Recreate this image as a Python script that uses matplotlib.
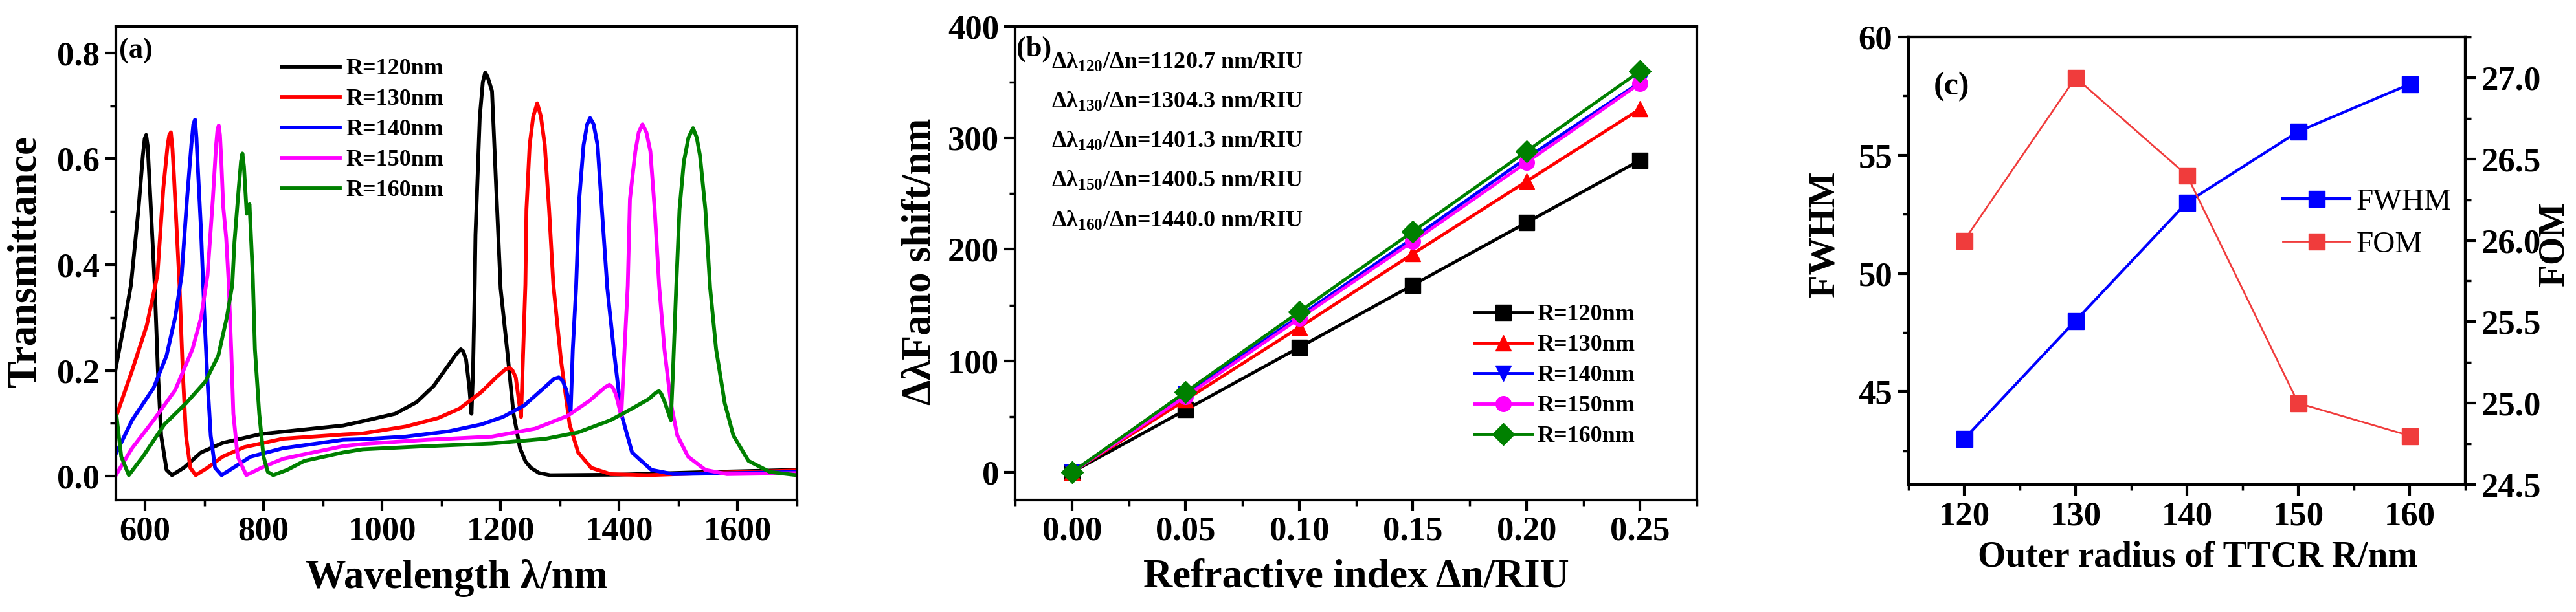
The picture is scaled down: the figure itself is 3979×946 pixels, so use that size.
import matplotlib
matplotlib.use('Agg')
import matplotlib.pyplot as plt
from matplotlib.ticker import MultipleLocator, FormatStrFormatter

plt.rcParams['font.family'] = ['Liberation Serif', 'DejaVu Serif']
plt.rcParams['font.weight'] = 'bold'
plt.rcParams['mathtext.fontset'] = 'custom'
plt.rcParams['mathtext.rm'] = 'Liberation Serif:bold'
plt.rcParams['mathtext.it'] = 'Liberation Serif:bold'
plt.rcParams['mathtext.default'] = 'regular'
plt.rcParams['axes.linewidth'] = 3

# ---- (a) transmission spectra ----
wl_120 = [550, 563.7, 576.4, 589, 596.4, 599.5, 602, 604.5, 607.3, 612.8, 616.4, 621.8, 627.3, 636.4,
          645.5, 665.5, 694.6, 730.9, 796.4, 934.6, 967.3, 1021.8, 1058.2, 1087.3, 1112.7, 1126,
          1132.8, 1137, 1141.8, 1147, 1150.9, 1153.5, 1156.4, 1157.6, 1164.8, 1170, 1174, 1178,
          1185.5, 1192, 1200, 1210.9, 1221.8, 1232.7, 1242, 1250.9, 1265, 1283.6, 1400, 1550, 1700]
t_120 = [0.20, 0.281, 0.362, 0.504, 0.606, 0.638, 0.645, 0.625, 0.565, 0.443, 0.362, 0.199, 0.077, 0.012,
         0.002, 0.016, 0.045, 0.063, 0.080, 0.096, 0.104, 0.118, 0.140, 0.171, 0.211, 0.232,
         0.240, 0.236, 0.220, 0.17, 0.118, 0.199, 0.362, 0.456, 0.678, 0.745, 0.763, 0.755,
         0.728, 0.56, 0.355, 0.240, 0.118, 0.053, 0.028, 0.016, 0.006, 0.002, 0.003, 0.008, 0.012]

wl_130 = [552, 578, 603, 621, 631, 638.2, 641, 643.7, 646.3, 649, 654.5, 658.2, 663.7, 669.2, 676.4,
          685.5, 705.5, 730.9, 767.3, 832.8, 934.6, 967.3, 1040, 1094.6, 1130.9, 1167.3, 1192.7,
          1208, 1214.6, 1220, 1225.5, 1230, 1234.5, 1238.2, 1241.8, 1243.6, 1249, 1255, 1261.8,
          1268, 1274.5, 1281.8, 1289, 1301.8, 1316.4, 1330.9, 1352.7, 1385.5, 1447.3, 1550, 1700]
t_130 = [0.115, 0.199, 0.285, 0.38, 0.545, 0.626, 0.645, 0.650, 0.62, 0.565, 0.443, 0.362, 0.199, 0.077,
         0.016, 0.002, 0.016, 0.037, 0.055, 0.071, 0.079, 0.081, 0.094, 0.110, 0.128, 0.159, 0.187,
         0.202, 0.205, 0.200, 0.187, 0.15, 0.112, 0.240, 0.362, 0.504, 0.626, 0.68, 0.705,
         0.68, 0.626, 0.504, 0.362, 0.220, 0.098, 0.045, 0.016, 0.004, 0.002, 0.006, 0.011]

wl_140 = [552, 578.2, 614.6, 636.4, 651, 661.9, 670.9, 678.2, 681.5, 684.4, 686.8, 689.1, 694.6, 700,
          705.5, 710.9, 718.2, 729.2, 749.1, 778.2, 832.8, 934.6, 967.3, 1040, 1112.7, 1167.3,
          1203.7, 1240, 1269.1, 1290, 1298.2, 1305, 1310.9, 1318.2, 1321.8, 1327.3, 1332.7, 1340,
          1346, 1351, 1357, 1363.6, 1370.9, 1380, 1390.9, 1403.6, 1421.8, 1436.4, 1454.5, 1490.9,
          1600, 1700]
t_140 = [0.045, 0.106, 0.167, 0.228, 0.301, 0.38, 0.524, 0.626, 0.665, 0.674, 0.64, 0.585, 0.463, 0.31,
         0.179, 0.077, 0.016, 0.002, 0.016, 0.037, 0.053, 0.069, 0.070, 0.075, 0.085, 0.098,
         0.112, 0.134, 0.163, 0.184, 0.187, 0.180, 0.163, 0.122, 0.240, 0.355, 0.524, 0.626,
         0.665, 0.677, 0.665, 0.626, 0.504, 0.356, 0.240, 0.118, 0.045, 0.030, 0.012, 0.004,
         0.006, 0.008]

wl_150 = [552, 578.2, 614.6, 651, 680, 694.6, 705.5, 714.5, 720, 722.3, 724.4, 726.5, 729, 732, 737,
          741, 745.5, 749.1, 756.4, 770.9, 796.4, 832.8, 934.6, 967.3, 1076.4, 1185.5, 1258.2,
          1312.7, 1349.1, 1376, 1383.6, 1389, 1394.5, 1403.6, 1409.1, 1414.5, 1418.2, 1427.3, 1433,
          1439.3, 1446, 1452.7, 1460, 1467.5, 1476.4, 1487.3, 1498.2, 1516.4, 1545.5, 1581.8, 1700]
t_150 = [0.004, 0.053, 0.106, 0.163, 0.240, 0.30, 0.38, 0.524, 0.626, 0.655, 0.663, 0.645, 0.59, 0.51,
         0.45, 0.37, 0.240, 0.118, 0.037, 0.002, 0.016, 0.033, 0.057, 0.061, 0.069, 0.075, 0.090,
         0.114, 0.142, 0.168, 0.173, 0.168, 0.155, 0.114, 0.240, 0.36, 0.524, 0.614, 0.65,
         0.665, 0.65, 0.614, 0.504, 0.36, 0.240, 0.138, 0.077, 0.037, 0.012, 0.004, 0.006]

wl_160 = [552, 560, 572.7, 596.4, 632.7, 669.2, 701.9, 723.7, 738.2, 747.3, 751, 758.2, 762, 764.4,
          767, 771.7, 776.4, 781.8, 785.5, 792.8, 800, 807.3, 816.4, 840, 869, 934.6, 967.3, 1076.4,
          1185.5, 1276.4, 1330.9, 1385.5, 1421.8, 1450, 1462, 1467.3, 1471, 1476.4, 1487.3, 1490.9,
          1496.4, 1501.8, 1509.1, 1517, 1524.7, 1531, 1536.4, 1545.5, 1553.5, 1563.6, 1578.2,
          1592.7, 1618.2, 1654.5, 1700]
t_160 = [0.114, 0.037, 0.002, 0.037, 0.098, 0.138, 0.179, 0.228, 0.301, 0.362, 0.443, 0.545, 0.595, 0.610,
         0.585, 0.496, 0.514, 0.38, 0.240, 0.118, 0.037, 0.008, 0.002, 0.012, 0.029, 0.045, 0.051, 0.057,
         0.062, 0.071, 0.083, 0.106, 0.128, 0.146, 0.158, 0.161, 0.156, 0.142, 0.106, 0.199,
         0.36, 0.504, 0.594, 0.64, 0.658, 0.64, 0.606, 0.504, 0.356, 0.240, 0.138,
         0.077, 0.029, 0.008, 0.002]

radius_labels = ['R=120nm', 'R=130nm', 'R=140nm', 'R=150nm', 'R=160nm']
colors = ['#000000', '#FF0000', '#0000FF', '#FF00FF', '#008000']

# ---- (b) Fano shift vs refractive index ----
delta_n = [0.00, 0.05, 0.10, 0.15, 0.20, 0.25]
shift_120 = [0, 56, 112, 168, 224, 280]
shift_130 = [0, 65, 130, 196, 261, 326]
shift_140 = [0, 70, 140, 210, 282, 350]
shift_150 = [0, 68, 138, 207, 278, 349]
shift_160 = [0, 72, 144, 216, 288, 360]
markers = ['s', '^', 'v', 'o', 'D']
sens_labels = ['120', '130', '140', '150', '160']
sens_values = ['1120.7', '1304.3', '1401.3', '1400.5', '1440.0']

# ---- (c) FWHM and FOM vs outer radius ----
radius = [120, 130, 140, 150, 160]
fwhm = [43, 48, 53, 56, 58]
fom = [26.0, 27.0, 26.4, 25.0, 24.8]


def style_axis(ax, size):
    ax.tick_params(which='major', direction='out', length=12, width=3, labelsize=size, pad=6)
    ax.tick_params(which='minor', direction='out', length=6.5, width=2.5)
    for lab in ax.get_xticklabels() + ax.get_yticklabels():
        lab.set_fontweight('bold')


fig = plt.figure(figsize=(39.8, 9.46), dpi=100)

# (a)
ax1 = fig.add_axes([0.045, 0.1829, 0.2643, 0.7738])
spectra = [(wl_120, t_120), (wl_130, t_130), (wl_140, t_140), (wl_150, t_150), (wl_160, t_160)]
for (wl, tr), c, lab in zip(spectra, colors, radius_labels):
    ax1.plot(wl, tr, color=c, lw=4.2, label=lab, solid_joinstyle='round')
ax1.set_xlim(551, 1700)
ax1.set_ylim(-0.045, 0.85)
ax1.xaxis.set_major_locator(MultipleLocator(200))
ax1.xaxis.set_minor_locator(MultipleLocator(100))
ax1.yaxis.set_major_locator(MultipleLocator(0.2))
ax1.yaxis.set_minor_locator(MultipleLocator(0.1))
ax1.yaxis.set_major_formatter(FormatStrFormatter('%.1f'))
style_axis(ax1, 38)
ax1.set_xlabel('Wavelength λ/nm', fontsize=45, fontweight='bold')
ax1.set_ylabel('Transmittance', fontsize=45, fontweight='bold')
ax1.xaxis.set_label_coords(0.5, -0.125)
ax1.yaxis.set_label_coords(-0.105, 0.504)
ax1.text(0.005, 0.948, '(a)', transform=ax1.transAxes, fontsize=32, fontweight='bold',
         ha='left', va='center')
ax1.legend(frameon=False, loc='upper left', bbox_to_anchor=(0.243, 0.933), borderaxespad=0,
           borderpad=0, handlelength=2.5, handletextpad=0.25, labelspacing=0.38,
           prop={'size': 26, 'weight': 'bold'})

# (b)
ax2 = fig.add_axes([0.394, 0.1829, 0.2646, 0.7738])
shifts = [shift_120, shift_130, shift_140, shift_150, shift_160]
for s, c, m, lab in zip(shifts, colors, markers, radius_labels):
    ax2.plot(delta_n, s, color=c, lw=3.5, marker=m, markersize=17, label=lab)
ax2.set_xlim(-0.025, 0.275)
ax2.set_ylim(-25, 400)
ax2.xaxis.set_major_locator(MultipleLocator(0.05))
ax2.xaxis.set_minor_locator(MultipleLocator(0.025))
ax2.xaxis.set_major_formatter(FormatStrFormatter('%.2f'))
ax2.yaxis.set_major_locator(MultipleLocator(100))
ax2.yaxis.set_minor_locator(MultipleLocator(50))
style_axis(ax2, 38)
ax2.set_xlabel('Refractive index Δn/RIU', fontsize=45, fontweight='bold')
ax2.set_ylabel('ΔλFano shift/nm', fontsize=45, fontweight='bold')
ax2.xaxis.set_label_coords(0.5, -0.125)
ax2.yaxis.set_label_coords(-0.112, 0.504)
ax2.text(0.002, 0.953, '(b)', transform=ax2.transAxes, fontsize=32, fontweight='bold',
         ha='left', va='center')
ann_y = [0.924, 0.840, 0.757, 0.673, 0.589]
for lab, val, yy in zip(sens_labels, sens_values, ann_y):
    ax2.text(0.053, yy, 'Δλ$_{%s}$/Δn=%s nm/RIU' % (lab, val), transform=ax2.transAxes,
             fontsize=26, fontweight='bold', ha='left', va='center')
ax2.legend(frameon=False, loc='upper left', bbox_to_anchor=(0.673, 0.414), borderaxespad=0,
           borderpad=0, handlelength=2.5, handletextpad=0.2, labelspacing=0.38, numpoints=1,
           prop={'size': 26, 'weight': 'bold'})

# (c)
ax3 = fig.add_axes([0.7407, 0.2082, 0.2161, 0.7315])
ax4 = ax3.twinx()
l1, = ax3.plot(radius, fwhm, color='#0000FF', lw=3, marker='s', markersize=18, label='FWHM')
l2, = ax4.plot(radius, fom, color='#F03C3C', lw=2, marker='s', markersize=18, label='FOM')
ax3.set_xlim(115, 165)
ax3.set_ylim(41.07, 60)
ax4.set_ylim(24.5, 27.25)
ax3.xaxis.set_major_locator(MultipleLocator(10))
ax3.xaxis.set_minor_locator(MultipleLocator(5))
ax3.yaxis.set_major_locator(MultipleLocator(5))
ax3.yaxis.set_minor_locator(MultipleLocator(2.5))
ax4.yaxis.set_major_locator(MultipleLocator(0.5))
ax4.yaxis.set_minor_locator(MultipleLocator(0.25))
ax4.yaxis.set_major_formatter(FormatStrFormatter('%.1f'))
style_axis(ax3, 38)
style_axis(ax4, 38)
ax3.set_xlabel('Outer radius of TTCR R/nm', fontsize=40, fontweight='bold')
ax3.set_ylabel('FWHM', fontsize=42, fontweight='bold')
ax4.set_ylabel('FOM', fontsize=40, fontweight='bold')
ax3.xaxis.set_label_coords(0.52, -0.125)
ax3.yaxis.set_label_coords(-0.12, 0.56)
ax4.yaxis.set_label_coords(1.13, 0.537)
ax3.text(0.045, 0.888, '(c)', transform=ax3.transAxes, fontsize=36, fontweight='bold',
         ha='left', va='center')
ax3.legend([l1, l2], ['FWHM', 'FOM'], frameon=False, loc='upper left',
           bbox_to_anchor=(0.672, 0.663), borderaxespad=0, borderpad=0, handlelength=2.2,
           handletextpad=0.2, labelspacing=0.5, numpoints=1,
           prop={'size': 34, 'weight': 'normal'})

fig.savefig('out.png', dpi=100)
